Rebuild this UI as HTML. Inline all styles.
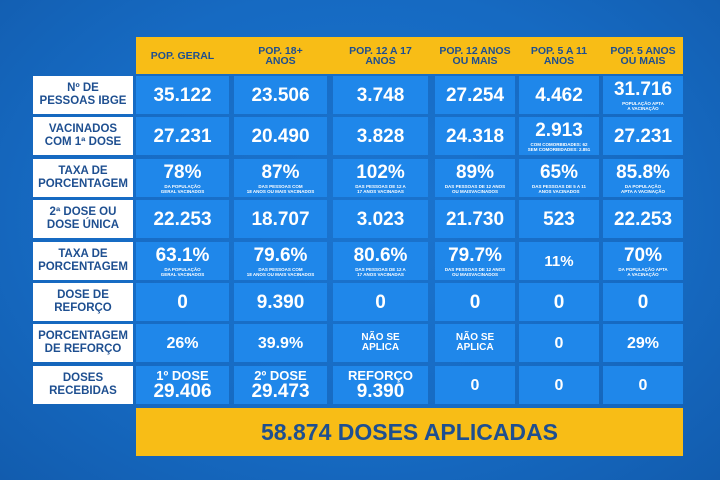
<!DOCTYPE html>
<html><head><meta charset="utf-8"><style>
body{margin:0;width:720px;height:480px;overflow:hidden;background:radial-gradient(ellipse at 50% 45%,#1b74cf 0%,#166ac2 60%,#125cae 100%);font-family:"Liberation Sans",sans-serif;font-weight:bold;position:relative}
.a{position:absolute;display:flex;flex-direction:column;align-items:center;justify-content:center;text-align:center}
.y{background:#f8bd16;color:#1e4f90}
.l{background:#fff;color:#1e4f90;font-size:11.5px;line-height:13px}
.c{background:#1f87ea;color:#fff;font-size:19px;line-height:19px}
.c small{font-size:4.5px;line-height:5px;font-weight:bold;margin-top:2px}
.h{font-size:10.5px;line-height:10px}
</style></head><body>
<div class="a y h" style="left:136px;top:37px;width:547px;height:37px"></div>
<div id="g"></div>
<div class="a y" style="left:136px;top:408px;width:547px;height:48px;font-size:23px">58.874 DOSES APLICADAS</div>
<script>
var cols=[[136,93],[234,93],[333,95],[435,80],[519,80],[603,80]];
var heads=["POP. GERAL","POP. 18+<br>ANOS","POP. 12 A 17<br>ANOS","POP. 12 ANOS<br>OU MAIS","POP. 5 A 11<br>ANOS","POP. 5 ANOS<br>OU MAIS"];
var labels=["Nº DE<br>PESSOAS IBGE","VACINADOS<br>COM 1ª DOSE","TAXA DE<br>PORCENTAGEM","2ª DOSE OU<br>DOSE ÚNICA","TAXA DE<br>PORCENTAGEM","DOSE DE<br>REFORÇO","PORCENTAGEM<br>DE REFORÇO","DOSES<br>RECEBIDAS"];
var d=[
["35.122","23.506","3.748","27.254","4.462","31.716<small>POPULAÇÃO APTA<br>A VACINAÇÃO</small>"],
["27.231","20.490","3.828","24.318","2.913<small>COM COMORBIDADES: 62<br>SEM COMORBIDADES: 2.851</small>","27.231"],
["78%<small>DA POPULAÇÃO<br>GERAL VACINADOS</small>","87%<small>DAS PESSOAS COM<br>18 ANOS OU MAIS VACINADOS</small>","102%<small>DAS PESSOAS DE 12 A<br>17 ANOS VACINADAS</small>","89%<small>DAS PESSOAS DE 12 ANOS<br>OU MAISVACINADOS</small>","65%<small>DAS PESSOAS DE 5 A 11<br>ANOS VACINADOS</small>","85.8%<small>DA POPULAÇÃO<br>APTA A VACINAÇÃO</small>"],
["22.253","18.707","3.023","21.730","523","22.253"],
["63.1%<small>DA POPULAÇÃO<br>GERAL VACINADOS</small>","79.6%<small>DAS PESSOAS COM<br>18 ANOS OU MAIS VACINADOS</small>","80.6%<small>DAS PESSOAS DE 12 A<br>17 ANOS VACINADAS</small>","79.7%<small>DAS PESSOAS DE 12 ANOS<br>OU MAISVACINADOS</small>","<span style='font-size:15px'>11%</span>","70%<small>DA POPULAÇÃO APTA<br>A VACINAÇÃO</small>"],
["0","9.390","0","0","0","0"],
["<span style='font-size:16px'>26%</span>","<span style='font-size:16px'>39.9%</span>","<span style='font-size:10px;line-height:10px'>NÃO SE<br>APLICA</span>","<span style='font-size:10px;line-height:10px'>NÃO SE<br>APLICA</span>","<span style='font-size:16px'>0</span>","<span style='font-size:16px'>29%</span>"],
["<span style='font-size:13px;line-height:12px'>1º DOSE</span>29.406","<span style='font-size:13px;line-height:12px'>2º DOSE</span>29.473","<span style='font-size:13px;line-height:12px'>REFORÇO</span>9.390","<span style='font-size:16px'>0</span>","<span style='font-size:16px'>0</span>","<span style='font-size:16px'>0</span>"]];
var h="";
cols.forEach(function(c,i){h+='<div class="a h" style="color:#1e4f90;left:'+c[0]+'px;top:37px;width:'+c[1]+'px;height:37px">'+heads[i]+'</div>';});
for(var r=0;r<8;r++){var t=Math.round(76+r*41.4);
h+='<div class="a l" style="left:33px;top:'+t+'px;width:100px;height:38px">'+labels[r]+'</div>';
cols.forEach(function(c,i){h+='<div class="a c" style="left:'+c[0]+'px;top:'+t+'px;width:'+c[1]+'px;height:38px">'+d[r][i]+'</div>';});}
document.getElementById("g").innerHTML=h;
</script>
</body></html>
